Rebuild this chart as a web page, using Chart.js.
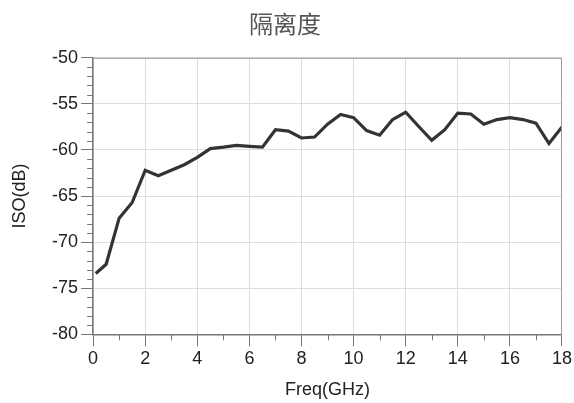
<!DOCTYPE html>
<html>
<head>
<meta charset="utf-8">
<script src="https://cdn.jsdelivr.net/npm/chart.js@4.4.0/dist/chart.umd.min.js"></script>
<style>
  html, body { margin: 0; padding: 0; background: #fff; }
  #wrap { width: 574px; height: 403px; }
</style>
</head>
<body>
<div id="wrap"><canvas id="isoChart" width="574" height="403"></canvas></div>
<script>
// frequency points (GHz) and isolation (dB)
const freqs = [0.1, 0.5, 1.0, 1.5, 2.0, 2.5, 3.0, 3.5, 4.0, 4.5, 5.0, 5.5, 6.0, 6.5,
    7.0, 7.5, 8.0, 8.5, 9.0, 9.5, 10.0, 10.5, 11.0, 11.5, 12.0, 12.5, 13.0, 13.5,
    14.0, 14.5, 15.0, 15.5, 16.0, 16.5, 17.0, 17.5, 18.0];
const isoValues = [-73.4, -72.4, -67.4, -65.7, -62.2, -62.8, -62.2, -61.6, -60.8, -59.85, -59.7, -59.5, -59.6, -59.7,
    -57.8, -57.95, -58.7, -58.6, -57.2, -56.15, -56.5, -57.9, -58.4, -56.7, -55.9, -57.45, -58.95, -57.8,
    -56.0, -56.1, -57.2, -56.7, -56.5, -56.7, -57.1, -59.3, -57.5];
const xTicks = [0, 2, 4, 6, 8, 10, 12, 14, 16, 18];
const yTicks = [-80, -75, -70, -65, -60, -55, -50];

const tickFont = { family: 'Liberation Sans, Arial, sans-serif', size: 18 };

// short minor ticks every 1 unit + frame round the plot
const minorTicks = {
    id: 'minorTicks',
    afterDraw(chart) {
        const ctx = chart.ctx;
        const area = chart.chartArea;
        const xs = chart.scales.x, ys = chart.scales.y;
        ctx.save();
        ctx.strokeStyle = '#777';
        ctx.lineWidth = 1;
        ctx.beginPath();
        for (let v = xs.min; v <= xs.max; v += 1) {
            if (v % 2 === 0) continue;
            const px = Math.round(xs.getPixelForValue(v)) + 0.5;
            ctx.moveTo(px, area.bottom);
            ctx.lineTo(px, area.bottom + 6);
        }
        for (let v = ys.min; v <= ys.max; v += 1) {
            if (v % 5 === 0) continue;
            const py = Math.round(ys.getPixelForValue(v)) + 0.5;
            ctx.moveTo(area.left, py);
            ctx.lineTo(area.left - 6, py);
        }
        ctx.stroke();
        ctx.strokeStyle = '#999';
        ctx.beginPath();
        ctx.moveTo(area.left, area.top + 0.5);
        ctx.lineTo(area.right - 0.5, area.top + 0.5);
        ctx.lineTo(area.right - 0.5, area.bottom);
        ctx.stroke();
        ctx.restore();
    }
};

new Chart(document.getElementById('isoChart'), {
    type: 'line',
    data: {
        datasets: [{
            label: 'ISO',
            data: freqs.map((f, i) => ({ x: f, y: isoValues[i] })),
            borderColor: '#333',
            borderWidth: 3.2,
            pointRadius: 0,
            fill: false,
            tension: 0
        }]
    },
    options: {
        responsive: false,
        animation: false,
        layout: { padding: { left: 8, right: 12, top: 4, bottom: 2 } },
        plugins: {
            legend: { display: false },
            tooltip: { enabled: false },
            title: {
                display: true,
                text: '隔离度',
                color: '#555',
                font: { family: 'Noto Sans CJK SC', size: 24, weight: 'normal' },
                padding: { top: 5, bottom: 20 }
            }
        },
        scales: {
            x: {
                type: 'linear',
                min: 0,
                max: 18,
                afterBuildTicks: s => { s.ticks = xTicks.map(v => ({ value: v })); },
                ticks: { color: '#222', font: tickFont, padding: 2 },
                grid: { color: '#ddd', tickColor: '#777', tickLength: 12 },
                border: { color: '#777', width: 1.5 },
                title: {
                    display: true,
                    text: 'Freq(GHz)',
                    color: '#222',
                    font: tickFont,
                    padding: { top: 7.5, bottom: 0 }
                }
            },
            y: {
                min: -80,
                max: -50,
                afterBuildTicks: s => { s.ticks = yTicks.map(v => ({ value: v })); },
                ticks: { color: '#222', font: tickFont, padding: 3 },
                grid: { color: '#ddd', tickColor: '#777', tickLength: 12 },
                border: { color: '#777', width: 1.5 },
                title: {
                    display: true,
                    text: 'ISO(dB)',
                    color: '#222',
                    font: tickFont,
                    padding: { top: 1, bottom: 18.5 }
                }
            }
        }
    },
    plugins: [minorTicks]
});
</script>
</body>
</html>
